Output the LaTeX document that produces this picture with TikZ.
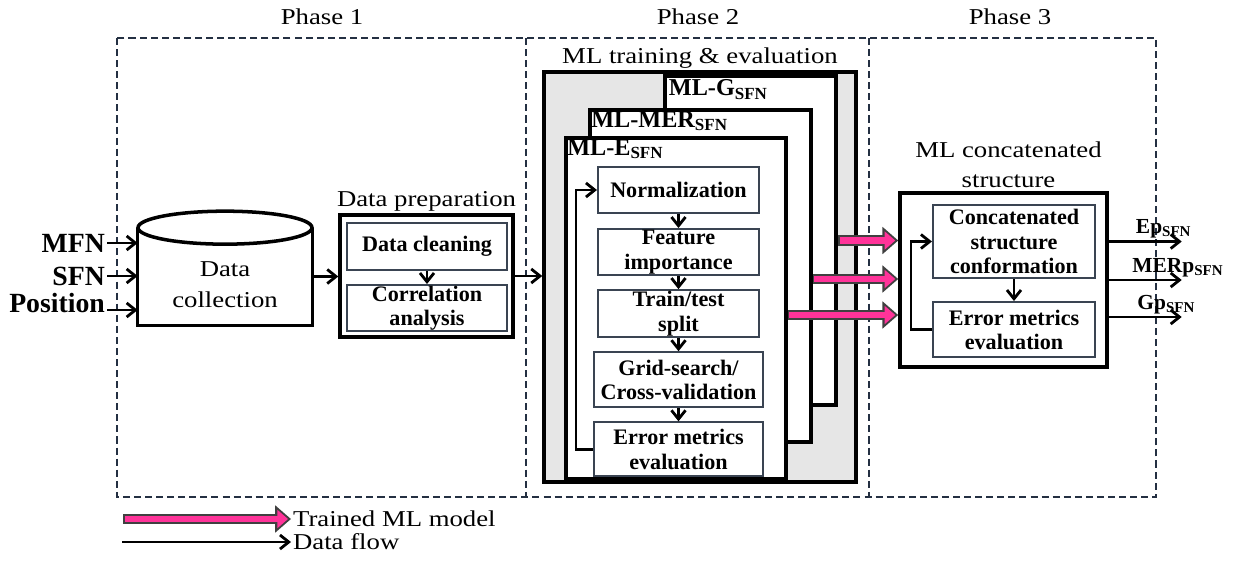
\documentclass[tikz,border=0pt]{standalone}
\usepackage{fontspec}
\setmainfont{Liberation Serif}
\newfontfamily\lblfont{Liberation Serif}[FakeStretch=1.18]
\usetikzlibrary{positioning, arrows.meta}
\definecolor{frame}{HTML}{243042}
\definecolor{stepline}{HTML}{3A4452}
\definecolor{trainpink}{HTML}{FF3399}
\definecolor{panelgray}{HTML}{E6E6E6}
\newcommand{\sfn}{\textsubscript{SFN}}

\begin{document}
\begin{tikzpicture}[x=0.02cm, y=-0.02cm, node distance=0.26cm]
              \tikzset{
                lbl/.style={font=\lblfont\fontsize{12.9}{17.5}\selectfont, inner sep=1pt},
                phase/.style={draw=frame, dash pattern=on 4pt off 2.3pt, line width=1.6pt},
                bigbox/.style={draw, line width=2pt, inner sep=0pt},
                modelbox/.style={bigbox, fill=white},
                stepbox/.style={draw=stepline, line width=1.2pt, fill=white, align=center, inner sep=0.5pt,
                  font=\bfseries\fontsize{12.6}{13.8}\selectfont},
                mltag/.style={anchor=north west, inner sep=1.5pt, font=\bfseries\fontsize{13.8}{14}\selectfont},
                inlbl/.style={anchor=east, inner sep=1pt, font=\bfseries\fontsize{15.8}{16}\selectfont},
                outlbl/.style={anchor=south west, inner sep=1pt, font=\bfseries\fontsize{12.2}{13}\selectfont},
                flow/.style={-{Straight Barb[length=5pt,width=8pt]}, line width=1.6pt},
                trained/.style={draw=trainpink, line width=3.8pt, -{Triangle[length=6pt,width=10pt]},
                  shorten >=1.7pt, shorten <=1pt,
                  preaction={draw=black!75, line width=6pt, -{Triangle[length=9pt,width=15pt]},
                    shorten >=0pt, shorten <=0pt}}
              }
              \useasboundingbox (0,0) rectangle (1235,562);

              % Marco de las tres fases
              \draw[phase] (117,38) rectangle (1156,497);
              \draw[phase] (526,38) -- (526,497);
              \draw[phase] (869,38) -- (869,497);
              \node[lbl] (ph1) at (322,17) {Phase 1};
              \node[lbl] (ph2) at (698,17) {Phase 2};
              \node[lbl] (ph3) at (1010,17) {Phase 3};

              % Fase 1: recogida de datos
              \node[minimum width=3.48cm, minimum height=1.94cm, inner sep=0pt] (dc) at (225,276.5) {};
              \draw[line width=2pt] (dc.north west) -- (dc.south west) -- (dc.south east) -- (dc.north east);
              \draw[line width=2pt, fill=white] (dc.north) ellipse [x radius=1.74cm, y radius=0.33cm];
              \node[lbl, align=center] (dctext) at (225,285) {Data\\collection};

              \node[inlbl] (mfn) at (107,243) {MFN};
              \node[inlbl] (sfn) at (107,276) {SFN};
              \node[inlbl] (pos) at (107,303) {Position};
              \coordinate (posin) at ([yshift=-0.14cm]pos.east);
              \draw[flow] (mfn.east) -- (mfn.east -| dc.west);
              \draw[flow] (sfn.east) -- (sfn.east -| dc.west);
              \draw[flow] (posin) -- (posin -| dc.west);

              % Preparacion de datos
              \node[bigbox, minimum width=3.46cm, minimum height=2.44cm] (prep) at (426.5,276) {};
              \node[lbl, above=0pt of prep] (preplbl) {Data preparation};
              \node[stepbox, minimum width=3.2cm, minimum height=0.94cm] (clean) at (427,246.5) {Data cleaning};
              \node[stepbox, minimum width=3.2cm, minimum height=0.9cm, below=of clean] (corr) {Correlation\\analysis};
              \path[flow] (clean) edge (corr);
              \draw[flow] (dc.east) -- (dc.east -| prep.west);

              % Fase 2: entrenamiento de los modelos
              \node[bigbox, fill=panelgray, minimum width=6.24cm, minimum height=8.2cm] (mlbox) at (700,277) {};
              \node[lbl, above=0pt of mlbox] (mllbl) {ML training \& evaluation};
              \node[modelbox, minimum width=3.42cm, minimum height=6.58cm] (mlg) at (750.5,240.5) {};
              \node[modelbox, minimum width=4.42cm, minimum height=6.64cm] (mlmer) at (700.5,276) {};
              \node[modelbox, minimum width=4.4cm, minimum height=6.82cm] (mle) at (676,308.5) {};
              \node[mltag, inner sep=3pt] (tagg) at (mlg.north west) {ML-G\sfn};
              \node[mltag] (tagmer) at (mlmer.north west) {ML-MER\sfn};
              \node[mltag] (tage) at (mle.north west) {ML-E\sfn};
              \draw[flow] (prep.east) -- (prep.east -| mlbox.west);

              \node[stepbox, minimum width=3.22cm, minimum height=0.92cm] (norm) at (678.5,190) {Normalization};
              \node[stepbox, minimum width=3.22cm, minimum height=0.92cm, below=0.28cm of norm] (feat) {Feature\\importance};
              \node[stepbox, minimum width=3.22cm, minimum height=0.94cm, below=of feat] (tt) {Train/test\\split};
              \node[stepbox, minimum width=3.38cm, minimum height=1.1cm, below=of tt] (grid) {Grid-search/\\Cross-validation};
              \node[stepbox, minimum width=3.38cm, minimum height=1.08cm, below=of grid] (err) {Error metrics\\evaluation};
              \path[flow]
                  (norm) edge (feat)
                  (feat) edge (tt)
                  (tt) edge (grid)
                  (grid) edge (err);
              \draw[flow] (err.west) -- ++(-17,0) |- (norm.west);

              % Fase 3: estructura concatenada
              \node[bigbox, minimum width=4.14cm, minimum height=3.48cm] (cbox) at (1003.5,280) {};
              \node[lbl, align=center, above=0.02cm of cbox, xshift=0.1cm] (cboxlbl) {ML concatenated\\structure};
              \node[stepbox, minimum width=3.24cm, minimum height=1.46cm] (conf) at (1014,241.5) {Concatenated\\structure\\conformation};
              \node[stepbox, minimum width=3.24cm, minimum height=1.1cm, below=0.44cm of conf] (cerr) {Error metrics\\evaluation};
              \path[flow] (conf) edge (cerr);
              \draw[flow] (cerr.west) -- ++(-21,0) |- (conf.west);

              % Modelos entrenados hacia la estructura
              \coordinate (mermid) at ([yshift=-0.06cm]mlmer.east);
              \coordinate (emid) at ([yshift=-0.13cm]mle.east);
              \draw[trained] (mlg.east) -- (mlg.east -| cbox.west);
              \draw[trained] (mermid) -- (mermid -| cbox.west);
              \draw[trained] (emid) -- (emid -| cbox.west);

              % Salidas
              \coordinate (epout) at (cbox.east |- conf.west);
              \coordinate (gpout) at ([yshift=-0.74cm]cbox.east);
              \draw[flow] (epout) -- ++(73,0) node[outlbl, pos=0.33] {Ep\sfn};
              \draw[flow] (cbox.east) -- ++(73,0) node[outlbl, pos=0.28] {MERp\sfn};
              \draw[flow] (gpout) -- ++(73,0) node[outlbl, pos=0.35] {Gp\sfn};

              % Leyenda
              \coordinate (lgtr) at (123,519);
              \coordinate (lgdf) at (122,542);
              \node[lbl, anchor=west] (lgtrtext) at (291,519) {Trained ML model};
              \node[lbl, anchor=west] (lgdftext) at (291,542) {Data flow};
              \draw[trained] (lgtr) -- (lgtrtext.west);
              \draw[flow] (lgdf) -- (lgdftext.west);

          \end{tikzpicture}
\end{document}
